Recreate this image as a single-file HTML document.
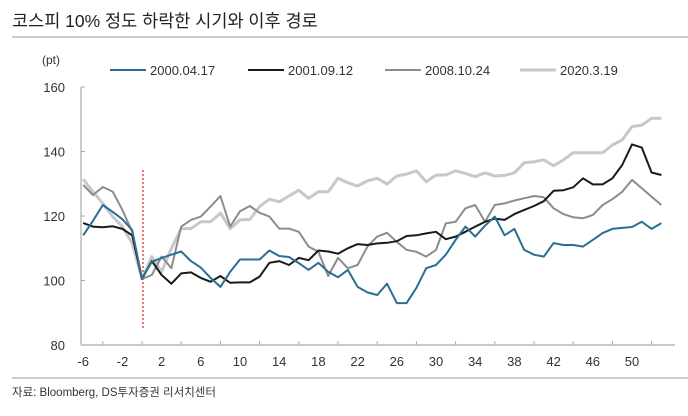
<!DOCTYPE html>
<html><head><meta charset="utf-8"><style>
body{margin:0;background:#fff;width:688px;height:411px;overflow:hidden;font-family:"Liberation Sans","Noto Sans CJK KR",sans-serif;}
</style></head><body>
<svg width="688" height="411" xmlns="http://www.w3.org/2000/svg" font-family="Liberation Sans, Noto Sans CJK KR, sans-serif">
<text x="12" y="27" font-size="17.5" fill="#222">코스피 10% 정도 하락한 시기와 이후 경로</text>
<line x1="12" y1="37" x2="688" y2="37" stroke="#999" stroke-width="1"/>
<text x="42" y="64" font-size="12" fill="#333">(pt)</text>
<g id="legend"></g>
<g id="axes"></g>
<line x1="143" y1="170" x2="143" y2="328" stroke="#e83030" stroke-width="1.3" stroke-dasharray="2,2"/>
<g id="series"></g>
<line x1="12" y1="378" x2="688" y2="378" stroke="#999" stroke-width="1"/>
<text x="12" y="396" font-size="11.5" fill="#333">자료: Bloomberg, DS투자증권 리서치센터</text>
</svg>
<script>
const xStart = -6;
const yTicks = [80, 100, 120, 140, 160];
const xLabels = [-6,-2,2,6,10,14,18,22,26,30,34,38,42,46,50];
const seriesNames = ["2000.04.17","2001.09.12","2008.10.24","2020.3.19"];
const s2000 = [114,118.5,123.4,121.3,119,115.6,100.5,105.8,107,108,109,106,104,100.8,98,102.7,106.5,106.5,106.5,109.3,107.6,107.3,105.4,103.3,105.5,102.7,101,103.3,98,96.3,95.5,99,93,93,97.7,103.8,104.8,108,112.6,116.7,113.6,117,119.8,114,116,109.5,108,107.4,111.6,111,111,110.5,112.6,114.7,116,116.3,116.6,118.2,116,117.8];
const s2001 = [117.8,116.7,116.5,116.8,116,114,100.5,106,101.7,99,102.2,102.5,100.8,99.6,101.4,99.3,99.4,99.4,101.2,105.5,106,104.8,107,106.3,109.3,109,108.3,110,111.3,111,111.5,111.7,112.2,113.8,114,114.6,115.1,112.8,113.6,115.1,116.7,118.2,119.2,118.8,120.6,121.9,123.1,124.6,127.8,128,128.9,131.7,129.8,129.8,131.7,135.8,142.2,141.2,133.5,132.7];
const s2008 = [129.6,126.5,129,127.6,121.9,115.1,100.5,101.7,107.4,103.8,116.7,118.8,119.8,122.9,126.2,116.7,121.5,123.1,121,119.8,116.1,116.1,115.1,110.5,108.9,101.4,107,103.8,104.8,110.5,113.6,114.8,112,109.5,108.9,107.4,109.5,117.7,118.2,122.4,123.4,118.2,123.4,123.9,124.8,125.5,126.2,125.8,122.4,120.6,119.6,119.3,120.3,123.4,125.2,127.5,131.2,128.6,126,123.4];
const s2020 = [131.4,127.5,123.9,119.8,116.7,111.5,100.5,107.4,102.7,110,116.1,116.1,118.2,118.2,120.9,116.1,118.8,118.9,122.9,125.2,124.4,126.2,128,125.5,127.5,127.5,131.7,130.3,129.3,130.9,131.7,129.9,132.4,133,134,130.6,132.7,132.7,134,133.2,132.2,133.4,132.4,132.6,133.4,136.5,136.8,137.4,135.6,137.4,139.6,139.6,139.6,139.6,142,143.6,147.7,148.2,150.3,150.3];
const colors = ["#2a6f93","#1a1a1a","#8c8c8c","#c8c8c8"];
const NS="http://www.w3.org/2000/svg";
function xs(x){return 142 + x*9.8;}
function ys(v){return 345 - (v-80)*3.225;}
function mk(t,a){const e=document.createElementNS(NS,t);for(const k in a)e.setAttribute(k,a[k]);return e;}
const axes=document.getElementById('axes');
let yl=mk('line',{x1:81,y1:ys(160),x2:81,y2:ys(80),stroke:'#aaa','stroke-width':1.2});


axes.appendChild(yl);
let xl=mk('line',{x1:81,y1:ys(80),x2:675,y2:ys(80),stroke:'#aaa','stroke-width':1.2});


axes.appendChild(xl);
yTicks.forEach(v=>{
  let tk=mk('line',{x1:81,y1:ys(v),x2:85,y2:ys(v),stroke:'#aaa'});
  
  
  axes.appendChild(tk);
  let t=mk('text',{x:65,y:ys(v)+5,'font-size':13,fill:'#333','text-anchor':'end'});
  t.textContent=v;
  
  
  axes.appendChild(t);
});
xLabels.forEach(v=>{
  let t=mk('text',{x:xs(v),y:366,'font-size':13,fill:'#333','text-anchor':'middle'});
  t.textContent=v;
  
  
  axes.appendChild(t);
  let tk=mk('line',{x1:xs(v)+19.6,y1:ys(80),x2:xs(v)+19.6,y2:ys(80)-4,stroke:'#aaa'});
  
  
  axes.appendChild(tk);
});
const allS=[s2000,s2001,s2008,s2020];
const sg=document.getElementById('series');
[3,2,1,0].forEach(i=>{
  const pts=allS[i].map((v,j)=>xs(xStart+j).toFixed(1)+','+ys(v).toFixed(1)).join(' ');
  let p=mk('polyline',{points:pts,fill:'none',stroke:colors[i],'stroke-width':i==3?3:2,'stroke-linejoin':'round'});
  
  
  sg.appendChild(p);
});
const lg=document.getElementById('legend');
const lx=[110,248,385,520];
seriesNames.forEach((n,i)=>{
  let l=mk('line',{x1:lx[i],y1:70,x2:lx[i]+36,y2:70,stroke:colors[i],'stroke-width':i==3?3:2});
  
  
  lg.appendChild(l);
  let t=mk('text',{x:lx[i]+40,y:75,'font-size':13,fill:'#333'});
  t.textContent=n;
  
  
  lg.appendChild(t);
});
</script>
</body></html>
